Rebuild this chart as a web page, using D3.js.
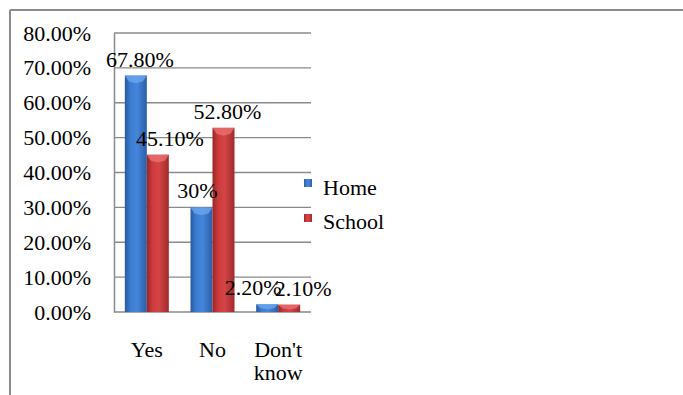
<!DOCTYPE html>
<html>
<head>
<meta charset="utf-8">
<script src="https://cdn.jsdelivr.net/npm/d3@7"></script>
<style>
  body { margin: 0; background: #fff; }
  svg text { font-family: "Liberation Serif", "Times New Roman", Times, serif; fill: #000; }
</style>
</head>
<body>
<div id="chart"></div>
<script>
const categories = ["Yes", "No", "Don't know"];
const seriesNames = ["Home", "School"];
const homeValues = [67.8, 30, 2.2];
const schoolValues = [45.1, 52.8, 2.1];
const homeLabels = ["67.80%", "30%", "2.20%"];
const schoolLabels = ["45.10%", "52.80%", "2.10%"];
const yTicks = [0, 10, 20, 30, 40, 50, 60, 70, 80];

const FONT = "'Liberation Serif', 'Times New Roman', Times, serif";
const FS = 22;
const width = 683, height = 395;
const plot = { left: 114, right: 311, top: 33, bottom: 312 };
// label nudges (px) so labels sit like the original
const homeNudge = [4, -4, -14];
const schoolNudge = [12, 4, 14];

const svg = d3.select("#chart").append("svg")
    .attr("width", width)
    .attr("height", height)
    .attr("font-family", FONT);

const defs = svg.append("defs");

const makeGradient = function (id, stops) {
    const g = defs.append("linearGradient")
        .attr("id", id)
        .attr("x1", "0").attr("y1", "0")
        .attr("x2", "1").attr("y2", "0");
    stops.forEach(s => g.append("stop").attr("offset", s[0]).attr("stop-color", s[1]));
};
makeGradient("blueGrad", [["0%", "#2a5a9e"], ["25%", "#3b7bd0"], ["55%", "#4586da"], ["100%", "#2b5ea6"]]);
makeGradient("redGrad", [["0%", "#9a2426"], ["25%", "#cc3a3c"], ["55%", "#d44446"], ["100%", "#a22a2c"]]);

// frame
svg.append("line").attr("x1", 10).attr("y1", 10).attr("x2", width).attr("y2", 10)
    .attr("stroke", "#8c8c8c").attr("stroke-width", 2);
svg.append("line").attr("x1", 10).attr("y1", 10).attr("x2", 10).attr("y2", height)
    .attr("stroke", "#8c8c8c").attr("stroke-width", 2);

const y = d3.scaleLinear().domain([0, 80]).range([plot.bottom, plot.top]);
const x0 = d3.scaleBand().domain(categories).range([plot.left, plot.right])
    .paddingInner(0.33).paddingOuter(0.165);
const x1 = d3.scaleBand().domain(seriesNames).range([0, x0.bandwidth()]);

// gridlines
svg.append("g").selectAll("line").data(yTicks.filter(d => d > 0)).enter()
    .append("line")
    .attr("x1", plot.left).attr("x2", plot.right)
    .attr("y1", d => y(d)).attr("y2", d => y(d))
    .attr("stroke", "#8a8a8a").attr("stroke-width", 1.3);

// y axis
const yAxis = svg.append("g")
    .attr("transform", `translate(${plot.left},0)`)
    .call(d3.axisLeft(y).tickValues(yTicks).tickSize(0).tickPadding(23)
        .tickFormat(d => d.toFixed(2) + "%"));
yAxis.attr("font-family", FONT).attr("font-size", FS);
yAxis.select(".domain").attr("stroke", "#8a8a8a").attr("stroke-width", 1.5);
yAxis.selectAll("text").attr("fill", "#000");

// x axis baseline
svg.append("line")
    .attr("x1", plot.left).attr("x2", plot.right)
    .attr("y1", plot.bottom).attr("y2", plot.bottom)
    .attr("stroke", "#8a8a8a").attr("stroke-width", 1.5);

// bars
const series = [
    { name: "Home", values: homeValues, labels: homeLabels, nudge: homeNudge, fill: "url(#blueGrad)", cap: "#6aa6ee" },
    { name: "School", values: schoolValues, labels: schoolLabels, nudge: schoolNudge, fill: "url(#redGrad)", cap: "#e87072" }
];
const bw = x1.bandwidth();

series.forEach(s => {
    const g = svg.append("g");
    g.selectAll("rect").data(categories).enter()
        .append("rect")
        .attr("x", (c) => x0(c) + x1(s.name))
        .attr("y", (c, i) => y(s.values[i]))
        .attr("width", bw)
        .attr("height", (c, i) => plot.bottom - y(s.values[i]))
        .attr("fill", s.fill);
    // bevel cap
    g.selectAll("path").data(categories).enter()
        .append("path")
        .attr("d", (c, i) => {
            const bx = x0(c) + x1(s.name);
            const by = y(s.values[i]);
            const h = Math.min(6, (plot.bottom - by) / 2);
            return `M${bx},${by}L${bx + bw},${by}L${bx + bw - 4},${by + h}L${bx + bw / 2},${by + h * 1.3}L${bx + 4},${by + h}Z`;
        })
        .attr("fill", s.cap)
        .attr("opacity", 0.8);
});

// value labels drawn on top of all bars
series.forEach(s => {
    svg.append("g").selectAll("text").data(categories).enter()
        .append("text")
        .attr("x", (c, i) => x0(c) + x1(s.name) + bw / 2 + s.nudge[i])
        .attr("y", (c, i) => Math.min(y(s.values[i]) - 9, plot.bottom - 14))
        .attr("text-anchor", "middle")
        .attr("font-size", FS)
        .text((c, i) => s.labels[i]);
});

// category labels
const catLabels = svg.append("g").selectAll("text").data(categories).enter()
    .append("text")
    .attr("text-anchor", "middle")
    .attr("font-size", FS)
    .attr("x", d => x0(d) + x0.bandwidth() / 2)
    .attr("y", 357);
catLabels.each(function (d) {
    const words = d.split(" ");
    const t = d3.select(this);
    words.forEach((w, i) => {
        t.append("tspan")
            .attr("x", x0(d) + x0.bandwidth() / 2)
            .attr("dy", i === 0 ? 0 : 23)
            .text(w);
    });
});

// legend
const legend = svg.append("g").attr("transform", "translate(304,179)");
const legendColors = ["url(#blueGrad)", "url(#redGrad)"];
seriesNames.forEach((name, i) => {
    legend.append("rect")
        .attr("x", 0).attr("y", i * 35)
        .attr("width", 8).attr("height", 8)
        .attr("fill", legendColors[i]);
    legend.append("text")
        .attr("x", 19).attr("y", i * 34 + 16)
        .attr("font-size", FS)
        .text(name);
});
</script>
</body>
</html>
